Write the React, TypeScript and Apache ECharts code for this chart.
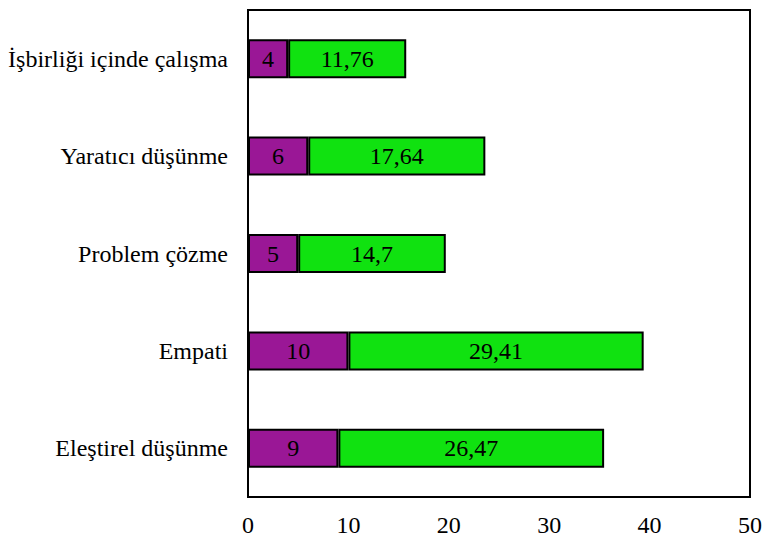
import React, { useEffect, useRef } from "react";
import * as echarts from "echarts";

const categories = [
  "Eleştirel düşünme",
  "Empati",
  "Problem çözme",
  "Yaratıcı düşünme",
  "İşbirliği içinde çalışma",
];
const purpleValues = [9, 10, 5, 6, 4];
const greenValues = [26.47, 29.41, 14.7, 17.64, 11.76];
const xTicks = [0, 10, 20, 30, 40, 50];

const FONT = "Times New Roman, Liberation Serif, serif";
const FS = 24;

export default function App() {
  const ref = useRef<HTMLDivElement>(null);
  useEffect(() => {
    if (!ref.current) return;
    const chart = echarts.init(ref.current, null, { renderer: "svg" });
    const fmt = (p: any) => String(p.value).replace(".", ",");
    chart.setOption({
      animation: false,
      backgroundColor: "#ffffff",
      textStyle: { fontFamily: FONT },
      grid: {
        left: 248,
        right: 10,
        top: 10,
        bottom: 43,
        show: true,
        borderColor: "#000",
        borderWidth: 2,
        backgroundColor: "transparent",
      },
      xAxis: {
        type: "value",
        min: xTicks[0],
        max: xTicks[xTicks.length - 1],
        interval: 10,
        axisLine: { show: true, lineStyle: { color: "#000", width: 2 } },
        axisTick: { show: false },
        splitLine: { show: false },
        axisLabel: {
          margin: 16,
          color: "#000",
          fontFamily: FONT,
          fontSize: FS,
          showMaxLabel: true,
        },
      },
      yAxis: {
        type: "category",
        data: categories,
        axisLine: { show: true, lineStyle: { color: "#000", width: 2 } },
        axisTick: { show: false },
        axisLabel: {
          margin: 20,
          color: "#000",
          fontFamily: FONT,
          fontSize: FS,
        },
      },
      series: [
        {
          type: "bar",
          stack: "total",
          data: purpleValues,
          barWidth: "40%",
          itemStyle: { color: "#9a1796", borderColor: "#000", borderWidth: 2 },
          label: {
            show: true,
            position: "inside",
            color: "#000",
            fontFamily: FONT,
            fontSize: FS,
            formatter: fmt,
          },
        },
        {
          type: "bar",
          stack: "total",
          data: greenValues,
          barWidth: "40%",
          itemStyle: { color: "#10e210", borderColor: "#000", borderWidth: 2 },
          label: {
            show: true,
            position: "inside",
            color: "#000",
            fontFamily: FONT,
            fontSize: FS,
            formatter: fmt,
          },
        },
      ],
    });
    return () => chart.dispose();
  }, []);
  return (
    <div
      ref={ref}
      style={{ position: "fixed", left: 0, top: 0, width: 765, height: 540 }}
    />
  );
}
